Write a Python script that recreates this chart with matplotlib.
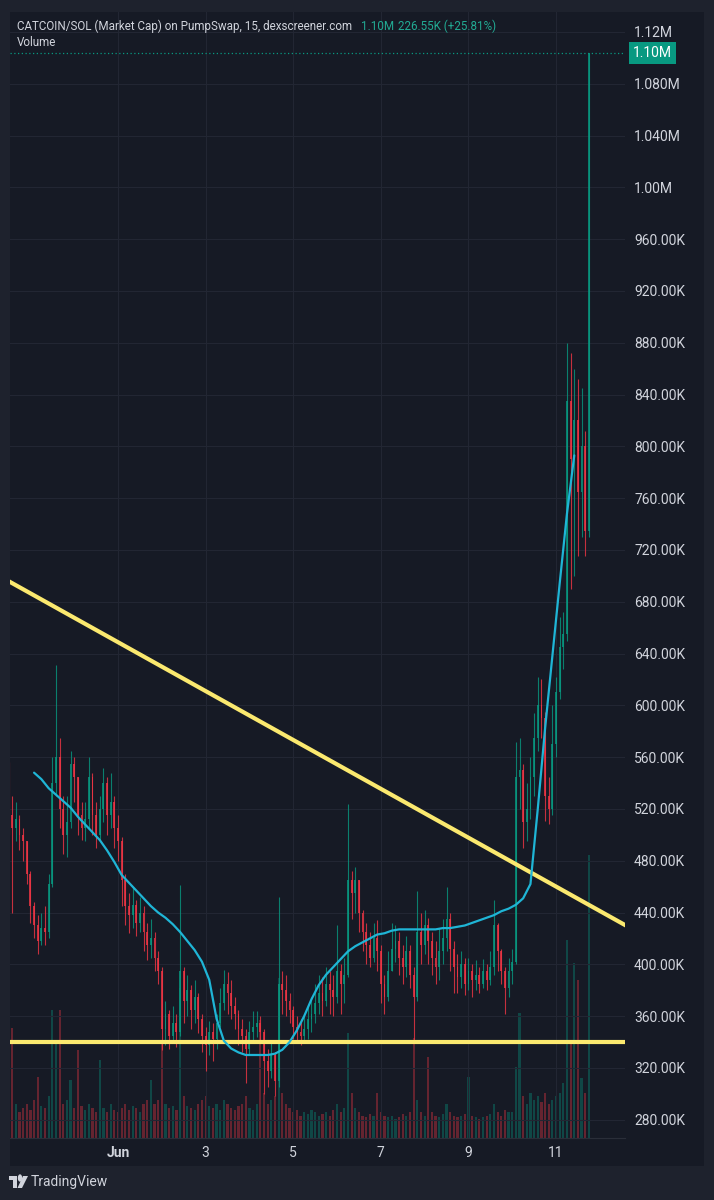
import matplotlib
matplotlib.use("Agg")
import matplotlib.pyplot as plt
import matplotlib.transforms as mtransforms
from matplotlib.patches import Rectangle, Circle, Polygon
import numpy as np

plt.rcParams['font.family'] = ['Roboto', 'DejaVu Sans']

# --- data: 2-hour candles, time in days from Jun 1 00:00, prices in K ---
t_start = -2.5
dt = 1 / 12
open0 = 530

close = [515, 505, 512, 500, 495, 470, 445, 430, 418, 428,
         425, 462, 540, 560, 520, 500, 510, 555, 545, 515,
         505, 512, 545, 515, 500, 520, 540, 515, 525, 505,
         495, 465, 445, 438, 446, 432, 440, 425, 415, 420,
         405, 395, 350, 362, 345, 355, 348, 395, 372, 380,
         365, 375, 358, 345, 338, 348, 342, 355, 370, 385,
         378, 368, 362, 350, 345, 335, 348, 352, 355, 348,
         325, 318, 330, 310, 385, 380, 372, 365, 352, 348,
         345, 350, 358, 362, 370, 378, 372, 385, 380, 375,
         395, 385, 392, 465, 455, 465, 440, 425, 415, 405,
         420, 410, 385, 375, 395, 412, 418, 405, 398, 410,
         392, 375, 425, 415, 430, 418, 405, 398, 410, 420,
         435, 412, 398, 390, 400, 385, 395, 388, 392, 385,
         395, 388, 398, 430, 410, 395, 382, 395, 402, 545,
         550, 510, 520, 545, 575, 600, 590, 530, 520, 570,
         610, 645, 655, 835, 790, 820, 765, 800, 735, 1104]

high = [556, 530, 525, 515, 505, 495, 472, 448, 438, 440,
        445, 470, 560, 631, 575, 530, 530, 565, 560, 545,
        525, 525, 560, 548, 525, 530, 552, 545, 548, 530,
        515, 498, 470, 455, 460, 450, 452, 445, 432, 435,
        425, 410, 398, 372, 365, 368, 362, 461, 398, 392,
        384, 388, 378, 362, 352, 356, 355, 362, 382, 396,
        394, 388, 375, 365, 358, 350, 356, 364, 364, 360,
        350, 335, 340, 332, 452, 395, 392, 378, 368, 360,
        358, 362, 368, 375, 385, 392, 390, 398, 395, 392,
        430, 400, 405, 524, 472, 475, 465, 442, 432, 425,
        432, 434, 415, 392, 410, 432, 430, 425, 415, 422,
        415, 398, 457, 440, 442, 436, 425, 418, 428, 435,
        460, 440, 418, 408, 410, 405, 405, 400, 403, 398,
        404, 400, 410, 450, 432, 412, 398, 405, 412, 572,
        575, 555, 540, 560, 594, 622, 620, 595, 545, 600,
        622, 668, 672, 880, 872, 860, 852, 845, 812, 1104]

low = [500, 440, 495, 488, 480, 462, 432, 420, 408, 415,
       415, 420, 460, 530, 505, 485, 483, 505, 525, 500,
       496, 495, 505, 500, 490, 495, 510, 500, 505, 490,
       480, 445, 430, 424, 428, 422, 425, 410, 403, 405,
       395, 385, 334, 338, 335, 340, 336, 345, 355, 360,
       350, 355, 347, 332, 318, 330, 325, 335, 352, 365,
       362, 358, 350, 338, 332, 308, 330, 340, 344, 340,
       300, 305, 312, 298, 305, 362, 360, 355, 342, 340,
       338, 340, 342, 348, 355, 362, 360, 368, 362, 360,
       370, 362, 370, 390, 435, 440, 425, 410, 400, 398,
       402, 395, 370, 362, 372, 395, 402, 392, 385, 390,
       382, 339, 372, 400, 408, 400, 392, 385, 388, 400,
       410, 395, 378, 378, 382, 376, 380, 375, 380, 378,
       382, 380, 384, 392, 395, 385, 362, 375, 385, 400,
       520, 490, 495, 512, 530, 565, 575, 511, 508, 515,
       560, 605, 628, 650, 690, 700, 715, 730, 715, 730]

volume = [30, 110, 34, 26, 30, 34, 28, 38, 61, 32,
          30, 42, 128, 95, 128, 34, 38, 58, 30, 88,
          32, 28, 34, 30, 26, 78, 30, 26, 34, 28,
          26, 30, 34, 28, 32, 30, 26, 34, 38, 58,
          34, 38, 98, 34, 30, 32, 28, 150, 42, 32,
          30, 28, 34, 38, 42, 32, 30, 34, 28, 38,
          34, 30, 28, 32, 34, 42, 30, 28, 34, 118,
          45, 34, 38, 42, 160, 45, 34, 30, 26, 28,
          22, 26, 24, 28, 26, 22, 24, 26, 22, 28,
          34, 26, 30, 105, 45, 30, 26, 22, 21, 24,
          22, 45, 26, 22, 21, 22, 19, 21, 24, 22,
          26, 100, 38, 26, 22, 81, 26, 22, 21, 24,
          34, 26, 22, 21, 22, 24, 61, 22, 21, 19,
          21, 22, 24, 34, 26, 22, 28, 26, 26, 71,
          125, 42, 34, 45, 38, 42, 36, 45, 34, 38,
          42, 45, 55, 198, 95, 175, 158, 60, 45, 283]

# smoothed indicator, one value every second candle from candle 7
cyan_first = 7
cyan_step = 2
cyan = [548, 543, 536, 531, 526, 521, 514, 508, 502, 496,
        488, 479, 469, 463, 457, 451, 445, 440, 436, 431,
        425, 418, 411, 402, 388, 358, 341, 335, 332, 330,
        330, 330, 330, 331, 334, 340, 349, 360, 373, 384,
        392, 398, 404, 410, 414, 417, 420, 423, 424, 426,
        427, 427, 427, 427, 427, 427, 428, 428, 429, 430,
        432, 434, 436, 438, 441, 443, 446, 451, 462, 520,
        582, 638, 694, 748, 793]

# drawn lines
trend_t = [-2.0, 11.0]
trend_p = [686.5, 441.2]
support_p = 340.1
last_price = 1104

price_ticks = [1120, 1080, 1040, 1000, 960, 920, 880, 840, 800, 760, 720,
               680, 640, 600, 560, 520, 480, 440, 400, 360, 320, 280]
price_labels = ['1.12M', '1.080M', '1.040M', '1.00M', '960.00K', '920.00K',
                '880.00K', '840.00K', '800.00K', '760.00K', '720.00K',
                '680.00K', '640.00K', '600.00K', '560.00K', '520.00K',
                '480.00K', '440.00K', '400.00K', '360.00K', '320.00K',
                '280.00K']
day_ticks = [0, 2, 4, 6, 8, 10]
day_labels = ['Jun', '3', '5', '7', '9', '11']

# --- style ---
FRAME = '#1e222d'
PANEL = '#161a25'
GRID = '#222633'
TEXT = '#d1d4dc'
UP = '#089981'
DOWN = '#f23645'
W, H = 714, 1200


def fx(px):
    return px / W


def fy(py):
    return 1 - py / H


fig = plt.figure(figsize=(W / 100, H / 100), dpi=100, facecolor=FRAME)
fig.patches.append(Rectangle((fx(10), fy(1166)), fx(704) - fx(10), fy(12) - fy(1166),
                             transform=fig.transFigure, facecolor=PANEL,
                             edgecolor='none', zorder=-10))

rect = [fx(10), fy(1138), fx(625) - fx(10), fy(12) - fy(1138)]
ax_vol = fig.add_axes(rect)
ax = fig.add_axes(rect, sharex=ax_vol)

n = len(close)
t = t_start + dt * np.arange(n)
c = np.array(close, float)
o = np.r_[open0, c[:-1]]
up = c >= o
colors = np.where(up, UP, DOWN)

# volume
ax_vol.set_facecolor(PANEL)
ax_vol.bar(t, volume, width=dt * 0.6, color=colors, alpha=0.36, linewidth=0)
ax_vol.set_ylim(0, 1126)
ax_vol.axis('off')

# price
ax.patch.set_visible(False)
ax.set_xlim(-2.466, 11.575)
ax.set_ylim(265.9, 1135.4)
ax.set_axisbelow(True)
ax.grid(True, color=GRID, linewidth=0.8)

ax.vlines(t, low, high, colors=colors, linewidth=0.8, alpha=0.8, zorder=2)
ax.bar(t, np.maximum(np.abs(c - o), 1.5), bottom=np.minimum(o, c), width=dt * 0.5,
       color=colors, alpha=0.8, linewidth=0, zorder=2)

ax.axline((trend_t[0], trend_p[0]), (trend_t[1], trend_p[1]), color='#fbe96f', lw=3.0, zorder=3)
ax.axhline(support_p, color='#fbe96f', lw=3.0, zorder=3)

ci = np.arange(cyan_first, cyan_first + cyan_step * len(cyan), cyan_step)
ax.plot(t[ci], cyan, color='#1fb5d6', lw=1.6, solid_joinstyle='round',
        solid_capstyle='round', zorder=4)

ax.axhline(last_price, color=UP, ls=(0, (1, 2)), lw=0.9, zorder=3)
trans = mtransforms.blended_transform_factory(ax.transAxes, ax.transData)
ax.annotate('1.10M', xy=(1, last_price), xycoords=trans, xytext=(6, 0),
            textcoords='offset points', ha='left', va='center', color='white',
            fontsize=10, annotation_clip=False,
            bbox=dict(boxstyle='square,pad=0.28', fc=UP, ec='none'))

ax.yaxis.tick_right()
ax.set_yticks(price_ticks)
ax.set_yticklabels(price_labels)
ax.set_xticks(day_ticks)
ax.set_xticklabels(day_labels)
ax.tick_params(axis='y', length=0, pad=6.5, labelsize=10, labelcolor=TEXT)
ax.tick_params(axis='x', length=0, pad=6, labelsize=10, labelcolor=TEXT)
ax.get_xticklabels()[0].set_fontweight('bold')
for s in ['top', 'right', 'left']:
    ax.spines[s].set_visible(False)
ax.spines['bottom'].set_color('#2a2e39')

# header
fig.text(fx(17), fy(26), 'CATCOIN/SOL (Market Cap) on PumpSwap, 15, dexscreener.com',
         fontsize=8.4, color=TEXT, va='center')
fig.text(fx(361), fy(26), '1.10M', fontsize=8.4, color='#22ab94', va='center')
fig.text(fx(398), fy(26), '226.55K (+25.81%)', fontsize=8.4, color='#22ab94', va='center')
fig.text(fx(17), fy(43), 'Volume', fontsize=8.4, color=TEXT, va='center')

# TradingView mark
logo = [
    Polygon([(fx(9), fy(1176)), (fx(17), fy(1176)), (fx(17), fy(1188)),
             (fx(13), fy(1188)), (fx(13), fy(1180)), (fx(9), fy(1180))], closed=True),
    Circle((fx(20), fy(1178)), 2.2 / W),
    Polygon([(fx(23), fy(1176)), (fx(28), fy(1176)), (fx(22), fy(1188)), (fx(17.5), fy(1188))],
            closed=True),
]
for p in logo:
    p.set_transform(fig.transFigure)
    p.set_facecolor(TEXT)
    p.set_edgecolor('none')
    fig.patches.append(p)
fig.text(fx(31), fy(1182), 'TradingView', fontsize=10, color=TEXT, va='center')

fig.savefig('out.png', dpi=100, facecolor=FRAME)
